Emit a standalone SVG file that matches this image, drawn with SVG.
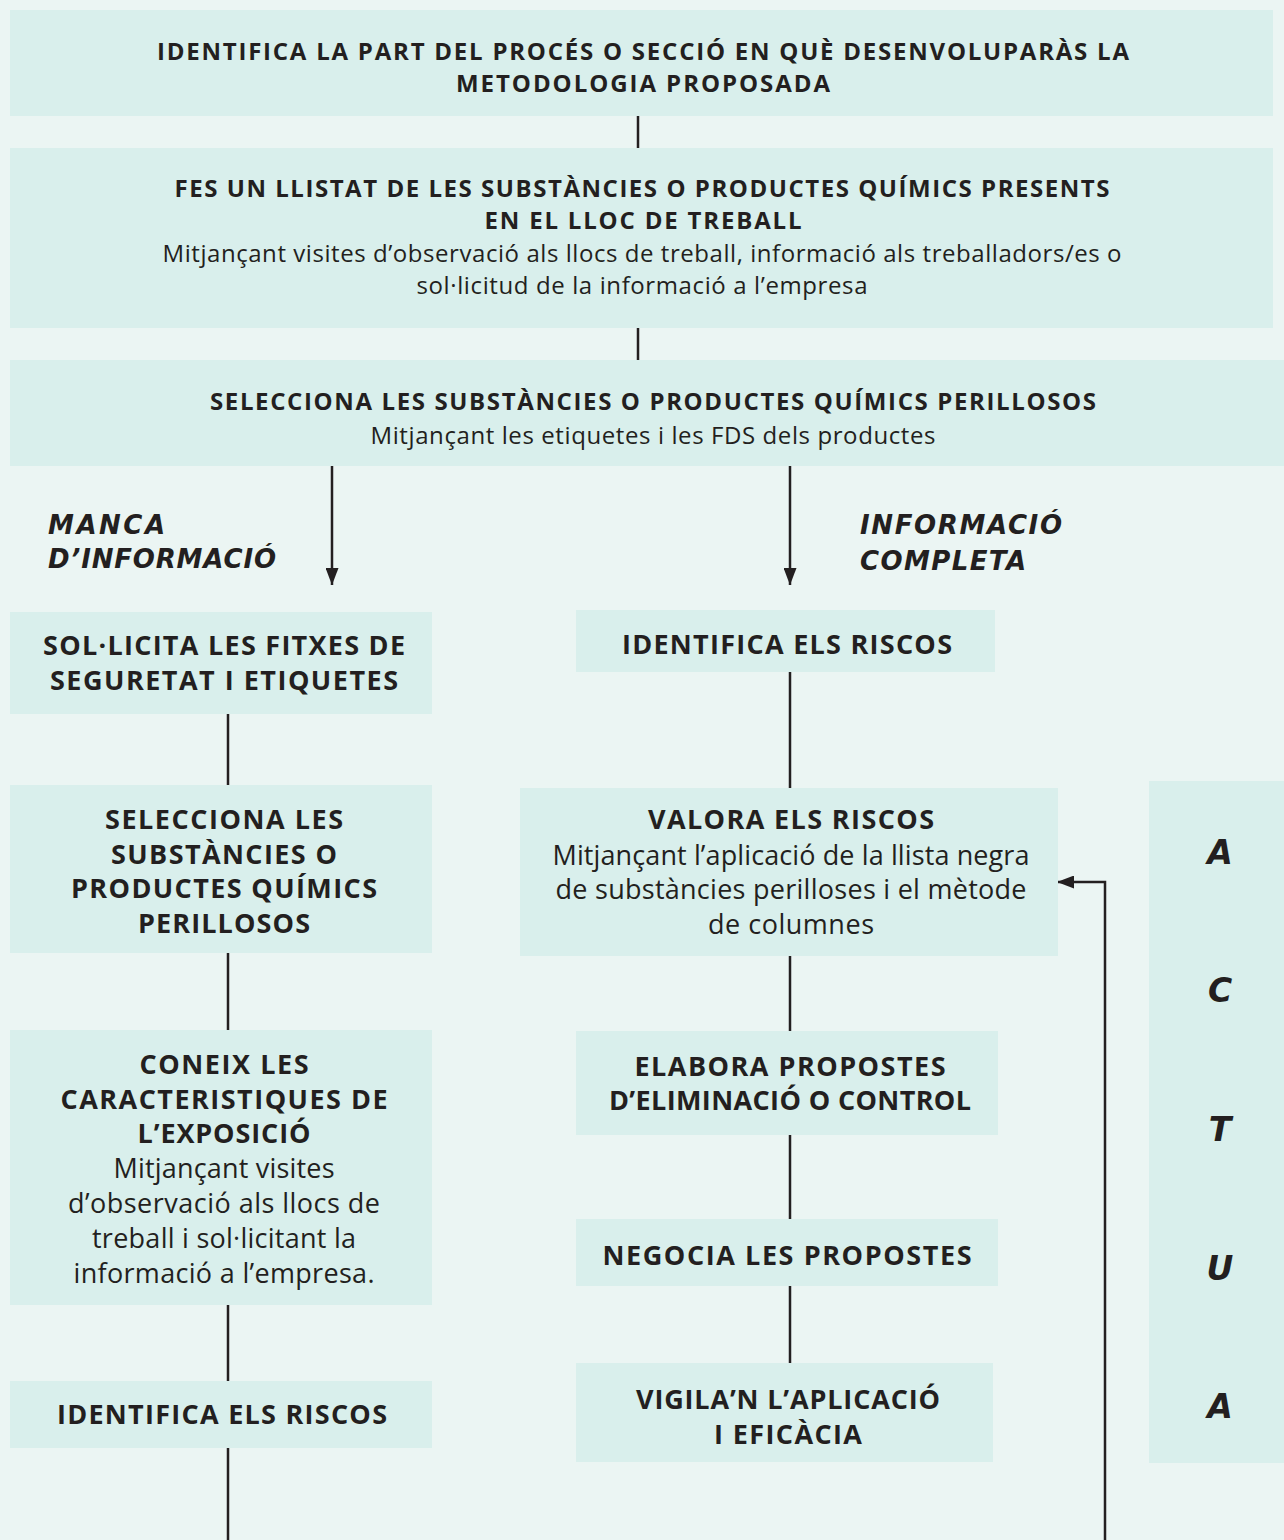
<svg xmlns="http://www.w3.org/2000/svg" width="1284" height="1540" viewBox="0 0 1284 1540">
<defs>
<style>
.bg{fill:#ebf5f3}
.box{fill:#d9efec}
.h{font-family:"Open Sans","Liberation Sans",sans-serif;font-weight:700;fill:#231f20;text-anchor:middle}
.n{font-family:"Open Sans","Liberation Sans",sans-serif;font-weight:400;fill:#231f20;text-anchor:middle}
.lab{font-family:"DejaVu Sans","Liberation Sans",sans-serif;font-weight:bold;font-style:oblique;fill:#231f20;font-size:26px}
.act{font-family:"DejaVu Sans","Liberation Sans",sans-serif;font-weight:bold;font-style:oblique;fill:#231f20;font-size:33px;text-anchor:middle}
.ln{stroke:#231f20;stroke-width:2.5;fill:none}
</style>
<marker id="ah" viewBox="0 0 17 13" refX="17" refY="6.5" markerWidth="17" markerHeight="13" markerUnits="userSpaceOnUse" orient="auto">
<path d="M0,0 L17,6.5 L0,13 Z" fill="#231f20"/>
</marker>
</defs>
<rect class="bg" x="0" y="0" width="1284" height="1540"/>

<g id="connectors">
<line class="ln" x1="638" y1="116" x2="638" y2="148"/>
<line class="ln" x1="638" y1="328" x2="638" y2="360"/>
<line class="ln" x1="332" y1="466" x2="332" y2="585" marker-end="url(#ah)"/>
<line class="ln" x1="790" y1="466" x2="790" y2="585" marker-end="url(#ah)"/>
<line class="ln" x1="228" y1="714" x2="228" y2="785"/>
<line class="ln" x1="228" y1="953" x2="228" y2="1030"/>
<line class="ln" x1="228" y1="1305" x2="228" y2="1381"/>
<line class="ln" x1="228" y1="1448" x2="228" y2="1540"/>
<line class="ln" x1="790" y1="672" x2="790" y2="788"/>
<line class="ln" x1="790" y1="956" x2="790" y2="1031"/>
<line class="ln" x1="790" y1="1135" x2="790" y2="1219"/>
<line class="ln" x1="790" y1="1286" x2="790" y2="1363"/>
<path class="ln" d="M1105,1540 L1105,882 L1057,882" marker-end="url(#ah)"/>
</g>

<g id="n1">
<rect class="box" x="10" y="10" width="1263" height="106"/>
<text class="h" font-size="24" x="643" y="60" textLength="972">IDENTIFICA LA PART DEL PROCÉS O SECCIÓ EN QUÈ DESENVOLUPARÀS LA</text>
<text class="h" font-size="24" x="643" y="92" textLength="374">METODOLOGIA PROPOSADA</text>
</g>

<g id="n2">
<rect class="box" x="10" y="148" width="1263" height="180"/>
<text class="h" font-size="24" x="642" y="197" textLength="935">FES UN LLISTAT DE LES SUBSTÀNCIES O PRODUCTES QUÍMICS PRESENTS</text>
<text class="h" font-size="24" x="643" y="229" textLength="317">EN EL LLOC DE TREBALL</text>
<text class="n" font-size="24" x="642" y="262" textLength="959">Mitjançant visites d’observació als llocs de treball, informació als treballadors/es o</text>
<text class="n" font-size="24" x="642" y="294" textLength="451">sol·licitud de la informació a l’empresa</text>
</g>

<g id="n3">
<rect class="box" x="10" y="360" width="1274" height="106"/>
<text class="h" font-size="24" x="653" y="410" textLength="886">SELECCIONA LES SUBSTÀNCIES O PRODUCTES QUÍMICS PERILLOSOS</text>
<text class="n" font-size="24" x="653" y="444" textLength="565">Mitjançant les etiquetes i les FDS dels productes</text>
</g>

<g id="lab-left">
<text class="lab" x="48" y="534" textLength="117">MANCA</text>
<text class="lab" x="48" y="568" textLength="228">D’INFORMACIÓ</text>
</g>
<g id="lab-right">
<text class="lab" x="860" y="534" textLength="202">INFORMACIÓ</text>
<text class="lab" x="860" y="570" textLength="166">COMPLETA</text>
</g>

<g id="l1">
<rect class="box" x="10" y="612" width="422" height="102"/>
<text class="h" font-size="27" x="224" y="655" textLength="362">SOL·LICITA LES FITXES DE</text>
<text class="h" font-size="27" x="224" y="690" textLength="348">SEGURETAT I ETIQUETES</text>
</g>

<g id="l2">
<rect class="box" x="10" y="785" width="422" height="168"/>
<text class="h" font-size="27" x="224" y="829" textLength="238">SELECCIONA LES</text>
<text class="h" font-size="27" x="224" y="864" textLength="226">SUBSTÀNCIES O</text>
<text class="h" font-size="27" x="224" y="898" textLength="306">PRODUCTES QUÍMICS</text>
<text class="h" font-size="27" x="224" y="933" textLength="172">PERILLOSOS</text>
</g>

<g id="l3">
<rect class="box" x="10" y="1030" width="422" height="275"/>
<text class="h" font-size="27" x="224" y="1074" textLength="169">CONEIX LES</text>
<text class="h" font-size="27" x="224" y="1109" textLength="327">CARACTERISTIQUES DE</text>
<text class="h" font-size="27" x="224" y="1143" textLength="173">L’EXPOSICIÓ</text>
<text class="n" font-size="27" x="224" y="1178" textLength="221">Mitjançant visites</text>
<text class="n" font-size="27" x="224" y="1213" textLength="312">d’observació als llocs de</text>
<text class="n" font-size="27" x="224" y="1248" textLength="264">treball i sol·licitant la</text>
<text class="n" font-size="27" x="224" y="1283" textLength="301">informació a l’empresa.</text>
</g>

<g id="l4">
<rect class="box" x="10" y="1381" width="422" height="67"/>
<text class="h" font-size="27" x="222" y="1424" textLength="330">IDENTIFICA ELS RISCOS</text>
</g>

<g id="r1">
<rect class="box" x="576" y="610" width="419" height="62"/>
<text class="h" font-size="27" x="787" y="654" textLength="330">IDENTIFICA ELS RISCOS</text>
</g>

<g id="r2">
<rect class="box" x="520" y="788" width="538" height="168"/>
<text class="h" font-size="27" x="791" y="829" textLength="286">VALORA ELS RISCOS</text>
<text class="n" font-size="27" x="791" y="865" textLength="477">Mitjançant l’aplicació de la llista negra</text>
<text class="n" font-size="27" x="791" y="899" textLength="471">de substàncies perilloses i el mètode</text>
<text class="n" font-size="27" x="791" y="934" textLength="166">de columnes</text>
</g>

<g id="r3">
<rect class="box" x="576" y="1031" width="422" height="104"/>
<text class="h" font-size="27" x="790" y="1076" textLength="311">ELABORA PROPOSTES</text>
<text class="h" font-size="27" x="790" y="1110" textLength="362">D’ELIMINACIÓ O CONTROL</text>
</g>

<g id="r4">
<rect class="box" x="576" y="1219" width="422" height="67"/>
<text class="h" font-size="27" x="787" y="1265" textLength="369">NEGOCIA LES PROPOSTES</text>
</g>

<g id="r5">
<rect class="box" x="576" y="1363" width="417" height="99"/>
<text class="h" font-size="27" x="788" y="1409" textLength="304">VIGILA’N L’APLICACIÓ</text>
<text class="h" font-size="27" x="788" y="1444" textLength="148">I EFICÀCIA</text>
</g>

<g id="actua">
<rect class="box" x="1149" y="781" width="135" height="682"/>
<text class="act" x="1220" y="864">A</text>
<text class="act" x="1220" y="1002">C</text>
<text class="act" x="1220" y="1141">T</text>
<text class="act" x="1220" y="1280">U</text>
<text class="act" x="1220" y="1418">A</text>
</g>
</svg>
